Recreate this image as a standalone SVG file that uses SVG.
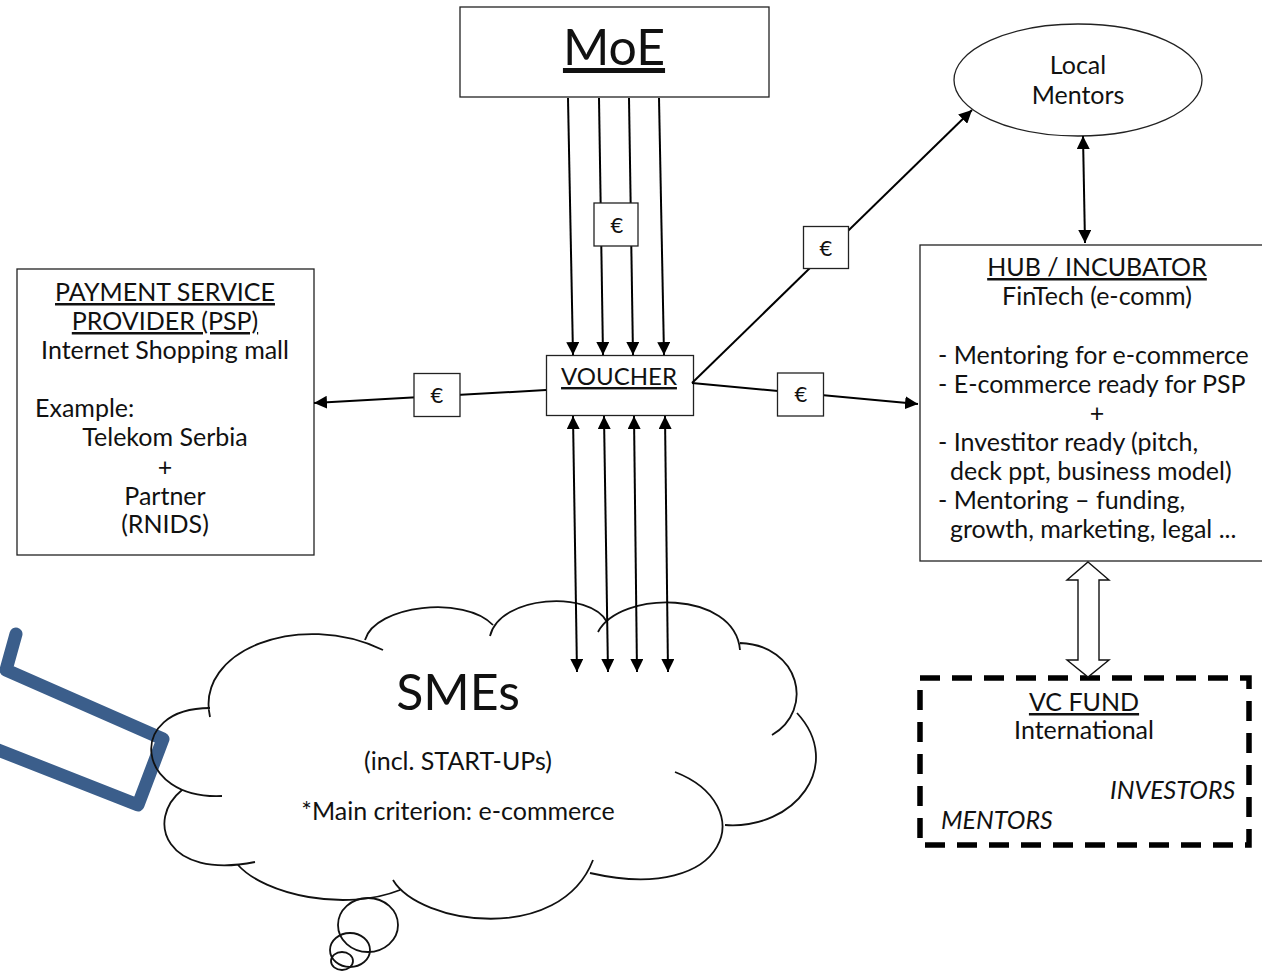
<svg xmlns="http://www.w3.org/2000/svg" width="1262" height="972" viewBox="0 0 1262 972">
<defs>
<marker id="ah" viewBox="0 0 13 13" refX="13" refY="6.5" markerWidth="13" markerHeight="13" markerUnits="userSpaceOnUse" orient="auto-start-reverse"><path d="M0,0 L13,6.5 L0,13 z" fill="#000"/></marker>
<style>
.t{font-family:Lato,"Liberation Sans",sans-serif;fill:#111;font-size:25px}
.c{text-anchor:middle}
.u{text-decoration:underline}
.i{font-style:italic}
.box{fill:#fff;stroke:#222;stroke-width:1.3}
.ln{stroke:#000;stroke-width:2;fill:none}
.cl{fill:none;stroke:#111;stroke-width:1.8}
.eu{font-family:Lato,"Liberation Sans",sans-serif;font-size:22px;fill:#111;text-anchor:middle}
</style>
</defs>
<rect width="1262" height="972" fill="#fff"/>

<g id="blue-shape">
<path d="M16,634 L6,670 L163,739 L138,805 L-40,735" fill="none" stroke="#3B5E8B" stroke-width="13" stroke-linejoin="round" stroke-linecap="round"/>
</g>

<g id="smes">
<path class="cl" d="M210,717 C195,650 300,610 383,650 M365,640 C375,605 465,595 493,625 M490,636 C500,595 590,590 607,622 M598,632 C620,590 735,590 740,650 M740,643 C800,645 815,710 772,735 M725,825 C795,830 845,765 797,713 M675,772 C760,805 730,905 590,873 M393,880 C420,925 560,945 593,860 M238,865 C265,895 345,912 400,890 M182,790 C145,820 165,880 255,862 M222,796 C135,800 125,708 210,708"/>
<ellipse class="cl" cx="368" cy="925" rx="30" ry="27"/>
<ellipse class="cl" cx="350" cy="950" rx="20" ry="17"/>
<ellipse class="cl" cx="342" cy="961" rx="11" ry="9"/>
<text class="t c" x="458" y="710" style="font-size:50px">SMEs</text>
<text class="t c" x="458" y="770">(incl. START-UPs)</text>
<text class="t c" x="458" y="820">*Main criterion: e-commerce</text>
</g>

<g id="moe">
<rect class="box" x="460" y="7" width="309" height="90"/>
<text class="t c u" x="614" y="65" style="font-size:50px">MoE</text>
</g>

<g id="voucher">
<rect class="box" x="546.5" y="355.5" width="147" height="60"/>
<text class="t c u" x="619" y="385" style="font-size:24px">VOUCHER</text>
</g>

<g id="psp">
<rect class="box" x="17" y="269" width="297" height="286"/>
<text class="t c u" x="165" y="301">PAYMENT SERVICE</text>
<text class="t c u" x="165" y="330">PROVIDER (PSP)</text>
<text class="t c" x="165" y="359">Internet Shopping mall</text>
<text class="t" x="35" y="417">Example:</text>
<text class="t c" x="165" y="446">Telekom Serbia</text>
<text class="t c" x="165" y="476">+</text>
<text class="t c" x="165" y="505">Partner</text>
<text class="t c" x="165" y="533">(RNIDS)</text>
</g>

<g id="local-mentors">
<ellipse cx="1078" cy="80" rx="124" ry="56" fill="#fff" stroke="#222" stroke-width="1.3"/>
<text class="t c" x="1078" y="74">Local</text>
<text class="t c" x="1078" y="104">Mentors</text>
</g>

<g id="hub">
<rect class="box" x="920" y="245" width="360" height="316"/>
<text class="t c u" x="1097" y="276">HUB / INCUBATOR</text>
<text class="t c" x="1097" y="305">FinTech (e-comm)</text>
<text class="t" x="938" y="364">- Mentoring for e-commerce</text>
<text class="t" x="938" y="393">- E-commerce ready for PSP</text>
<text class="t c" x="1097" y="422">+</text>
<text class="t" x="938" y="451">- Investitor ready (pitch,</text>
<text class="t" x="950" y="480">deck ppt, business model)</text>
<text class="t" x="938" y="509">- Mentoring – funding,</text>
<text class="t" x="950" y="538">growth, marketing, legal ...</text>
</g>

<g id="vc-fund">
<rect x="920" y="678" width="329" height="167" fill="#fff" stroke="#000" stroke-width="5.5" stroke-dasharray="20 12"/>
<text class="t c u" x="1084" y="711">VC FUND</text>
<text class="t c" x="1084" y="739">International</text>
<text class="t i" x="1110" y="799">INVESTORS</text>
<text class="t i" x="941" y="829">MENTORS</text>
</g>

<g id="connectors">
<line class="ln" x1="568" y1="98" x2="573" y2="355" marker-end="url(#ah)"/>
<line class="ln" x1="599" y1="98" x2="603" y2="355" marker-end="url(#ah)"/>
<line class="ln" x1="629" y1="98" x2="633" y2="355" marker-end="url(#ah)"/>
<line class="ln" x1="659" y1="98" x2="664" y2="355" marker-end="url(#ah)"/>
<line class="ln" x1="573" y1="416" x2="577" y2="672" marker-start="url(#ah)" marker-end="url(#ah)"/>
<line class="ln" x1="604" y1="416" x2="608" y2="672" marker-start="url(#ah)" marker-end="url(#ah)"/>
<line class="ln" x1="634" y1="416" x2="637" y2="672" marker-start="url(#ah)" marker-end="url(#ah)"/>
<line class="ln" x1="665" y1="416" x2="668" y2="672" marker-start="url(#ah)" marker-end="url(#ah)"/>
<line class="ln" x1="546" y1="390" x2="314" y2="403" marker-end="url(#ah)"/>
<line class="ln" x1="692" y1="383" x2="918" y2="404" marker-end="url(#ah)"/>
<line class="ln" x1="692" y1="383" x2="972" y2="110" marker-end="url(#ah)"/>
<line class="ln" x1="1083" y1="136" x2="1085" y2="243" marker-start="url(#ah)" marker-end="url(#ah)"/>
<polygon points="1088,562 1109,580 1099,580 1099,660 1109,660 1088,677 1067,660 1078,660 1078,580 1067,580" fill="#fff" stroke="#111" stroke-width="1.4"/>
</g>

<g id="euro-labels">
<rect class="box" x="594" y="203" width="44" height="43"/>
<text class="eu" x="617" y="233">€</text>
<rect class="box" x="803.5" y="226.5" width="45" height="42"/>
<text class="eu" x="826" y="256">€</text>
<rect class="box" x="777.5" y="373" width="46" height="43"/>
<text class="eu" x="801" y="402">€</text>
<rect class="box" x="414" y="373.5" width="46" height="43"/>
<text class="eu" x="437" y="403">€</text>
</g>
</svg>
